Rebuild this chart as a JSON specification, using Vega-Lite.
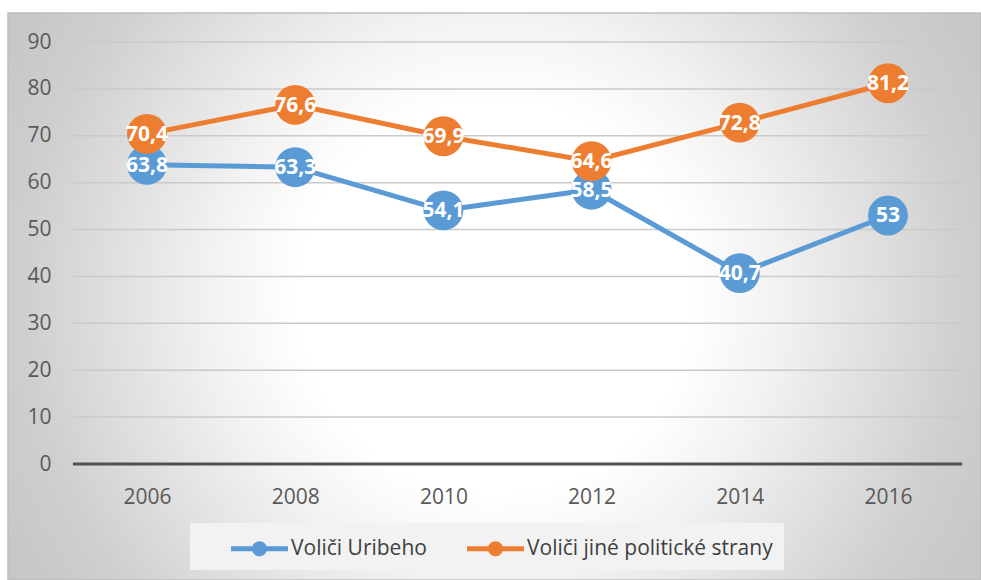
{
  "$schema": "https://vega.github.io/schema/vega-lite/v6.json",
  "width": 973,
  "height": 567,
  "autosize": {"type": "none"},
  "padding": {"left": 8, "top": 13, "right": 0, "bottom": 0},
  "background": "#ffffff",
  "config": {
    "locale": {"number": {"decimal": ",", "thousands": " ", "grouping": [3], "currency": ["", ""]}},
    "font": "Open Sans",
    "view": {
      "stroke": "#bfbfbf",
      "strokeWidth": 1.5,
      "fill": {
        "gradient": "radial",
        "x1": 0.5, "y1": 0.5, "r1": 0,
        "x2": 0.5, "y2": 0.5, "r2": 0.56,
        "stops": [
          {"offset": 0, "color": "#ffffff"},
          {"offset": 0.36, "color": "#ffffff"},
          {"offset": 0.52, "color": "#f2f2f2"},
          {"offset": 0.86, "color": "#cfcfcf"},
          {"offset": 1, "color": "#c7c7c7"}
        ]
      }
    }
  },
  "layer": [
    {
      "data": {"values": [
        {"v": 10}, {"v": 20}, {"v": 30}, {"v": 40}, {"v": 50},
        {"v": 60}, {"v": 70}, {"v": 80}, {"v": 90}
      ]},
      "mark": {"type": "rule", "color": "#cacaca", "strokeWidth": 1.5},
      "encoding": {
        "y": {
          "field": "v",
          "type": "quantitative",
          "title": null,
          "scale": {"domain": [-24.739, 96.185], "nice": false, "zero": false},
          "axis": {
            "values": [0, 10, 20, 30, 40, 50, 60, 70, 80, 90],
            "orient": "left",
            "offset": -43,
            "domain": false,
            "ticks": false,
            "grid": false,
            "labelPadding": 0,
            "labelFont": "Open Sans",
            "labelFontSize": 21,
            "labelColor": "#595959",
            "labelFlush": false,
            "labelOverlap": false,
            "title": null
          }
        },
        "x": {
          "datum": 2005,
          "type": "quantitative",
          "scale": {"domain": [2004.1242, 2017.2551], "nice": false, "zero": false},
          "axis": {
            "values": [2006, 2008, 2010, 2012, 2014, 2016],
            "format": "d",
            "orient": "bottom",
            "offset": -94,
            "domain": false,
            "ticks": false,
            "grid": false,
            "labelPadding": 0,
            "labelFont": "Open Sans",
            "labelFontSize": 21,
            "labelColor": "#595959",
            "labelFlush": false,
            "labelOverlap": false,
            "title": null
          }
        },
        "x2": {"datum": 2017}
      }
    },
    {
      "data": {"values": [{"v": 0}]},
      "mark": {"type": "rule", "color": "#505050", "strokeWidth": 3},
      "encoding": {
        "y": {"field": "v", "type": "quantitative"},
        "x": {"datum": 2005, "type": "quantitative"},
        "x2": {"datum": 2017}
      }
    },
    {
      "data": {"values": [
        {"year": 2006, "value": 63.8, "series": "Voliči Uribeho"},
        {"year": 2008, "value": 63.3, "series": "Voliči Uribeho"},
        {"year": 2010, "value": 54.1, "series": "Voliči Uribeho"},
        {"year": 2012, "value": 58.5, "series": "Voliči Uribeho"},
        {"year": 2014, "value": 40.7, "series": "Voliči Uribeho"},
        {"year": 2016, "value": 53, "series": "Voliči Uribeho"},
        {"year": 2006, "value": 70.4, "series": "Voliči jiné politické strany"},
        {"year": 2008, "value": 76.6, "series": "Voliči jiné politické strany"},
        {"year": 2010, "value": 69.9, "series": "Voliči jiné politické strany"},
        {"year": 2012, "value": 64.6, "series": "Voliči jiné politické strany"},
        {"year": 2014, "value": 72.8, "series": "Voliči jiné politické strany"},
        {"year": 2016, "value": 81.2, "series": "Voliči jiné politické strany"}
      ]},
      "encoding": {
        "x": {"field": "year", "type": "quantitative"},
        "y": {"field": "value", "type": "quantitative"},
        "color": {
          "field": "series",
          "type": "nominal",
          "sort": null,
          "scale": {
            "domain": ["Voliči Uribeho", "Voliči jiné politické strany"],
            "range": ["#5b9bd5", "#ed7d31"]
          },
          "legend": {
            "orient": "none",
            "legendX": 182,
            "legendY": 510,
            "direction": "horizontal",
            "title": null,
            "symbolType": "M-2,-0.17L2,-0.17L2,0.17L-2,0.17Z M-0.53,0A0.53,0.53 0 1,1 0.53,0A0.53,0.53 0 1,1 -0.53,0Z",
            "symbolSize": 812,
            "symbolStrokeWidth": 0,
            "symbolOpacity": 1,
            "symbolOffset": 44,
            "labelFont": "Open Sans",
            "labelFontSize": 21,
            "labelColor": "#404040",
            "labelOffset": 17,
            "labelLimit": 500,
            "columnPadding": 10,
            "padding": 11,
            "fillColor": "#f2f2f2",
            "encode": {
              "symbols": {
                "update": {
                  "fill": {"scale": "color", "field": "value"},
                  "stroke": {"value": "transparent"},
                  "opacity": {"value": 1}
                }
              }
            }
          }
        }
      },
      "layer": [
        {
          "mark": {"type": "line", "strokeWidth": 5, "strokeCap": "round"}
        },
        {
          "mark": {"type": "point", "filled": true, "size": 1590, "opacity": 1, "strokeWidth": 0, "shape": "circle"}
        },
        {
          "mark": {"type": "text", "color": "#ffffff", "fontSize": 21, "fontWeight": "bold", "font": "Open Sans", "align": "center", "baseline": "middle", "dy": 1},
          "encoding": {
            "text": {"field": "value", "type": "quantitative", "format": ".3~r"},
            "color": {"value": "#ffffff"}
          }
        }
      ]
    }
  ]
}
